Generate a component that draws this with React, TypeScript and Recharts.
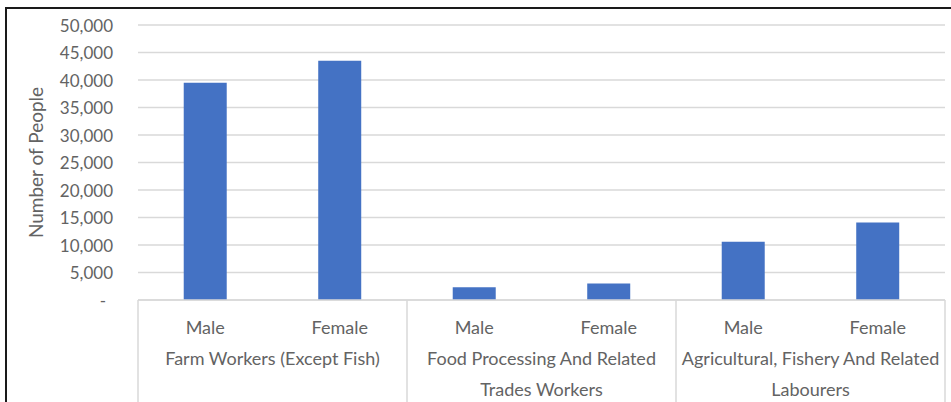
import React from "react";
import { BarChart, Bar, XAxis, YAxis, CartesianGrid } from "recharts";

const GROUPS = [
  ["Farm Workers (Except Fish)"],
  ["Food Processing And Related", "Trades Workers"],
  ["Agricultural, Fishery And Related", "Labourers"],
];
const SEXES = ["Male", "Female"];
const PEOPLE = [39500, 43500, 2300, 3000, 10600, 14100];
const Y_TICKS = [0, 5000, 10000, 15000, 20000, 25000, 30000, 35000, 40000, 45000, 50000];

const data = PEOPLE.map((people, i) => ({
  sex: SEXES[i % 2],
  group: Math.floor(i / 2),
  people,
}));

const W = 951;
const H = 402;
const LEFT = 138;
const RIGHT = 6;
const BAND = (W - LEFT - RIGHT) / data.length;
const FONT = "Lato, 'Open Sans', sans-serif";
const TEXT = "#636363";
const LINE = "#D9D9D9";

function YTick({ x, y, payload }: any) {
  const zero = payload.value === 0;
  return (
    <text
      x={x - (zero ? 7 : 0)}
      y={y}
      textAnchor="end"
      dominantBaseline="central"
      fill={TEXT}
      fontSize={17}
      fontFamily={FONT}
    >
      {zero ? "-" : payload.value.toLocaleString("en-US")}
    </text>
  );
}

function XTick({ x, y, payload }: any) {
  const i = payload.index;
  const g = Math.floor(i / 2);
  const first = i % 2 === 0;
  return (
    <g>
      <text
        x={x}
        y={y + 27}
        textAnchor="middle"
        dominantBaseline="central"
        fill={TEXT}
        fontSize={18}
        fontFamily={FONT}
      >
        {payload.value}
      </text>
      {first && (
        <>
          <line x1={x - BAND / 2} x2={x - BAND / 2} y1={y} y2={H} stroke={LINE} strokeWidth={1.5} />
          {GROUPS[g].map((ln, k) => (
            <text
              key={k}
              x={x + BAND / 2}
              y={y + 58 + k * 31}
              textAnchor="middle"
              dominantBaseline="central"
              fill={TEXT}
              fontSize={18}
              fontFamily={FONT}
            >
              {ln}
            </text>
          ))}
        </>
      )}
      {i === data.length - 1 && (
        <line x1={x + BAND / 2} x2={x + BAND / 2} y1={y} y2={H} stroke={LINE} strokeWidth={1.5} />
      )}
    </g>
  );
}

export default function App() {
  return (
    <div
      style={{
        position: "absolute",
        left: 0,
        top: 0,
        width: W,
        height: H,
        overflow: "hidden",
        background: "#fff",
      }}
    >
      <div
        style={{
          position: "absolute",
          left: 5,
          top: 7,
          width: W + 20,
          height: H + 20,
          borderLeft: "2px solid #1a1a1a",
          borderTop: "2px solid #1a1a1a",
        }}
      />
      <BarChart
        width={W}
        height={H}
        data={data}
        margin={{ top: 25, right: RIGHT, bottom: 0, left: 0 }}
        barCategoryGap="34%"
      >
        <CartesianGrid vertical={false} stroke={LINE} strokeWidth={1.5} />
        <XAxis
          dataKey="sex"
          height={102}
          axisLine={{ stroke: LINE, strokeWidth: 1.5 }}
          tickLine={false}
          tickSize={0}
          tickMargin={0}
          interval={0}
          tick={<XTick />}
        />
        <YAxis
          width={LEFT}
          domain={[0, 50000]}
          ticks={Y_TICKS}
          axisLine={false}
          tickLine={false}
          tickSize={0}
          tickMargin={25}
          tick={<YTick />}
          label={{
            value: "Number of People",
            angle: -90,
            position: "center",
            dx: -33,
            fill: TEXT,
            fontSize: 19,
            fontFamily: FONT,
          }}
        />
        <Bar dataKey="people" fill="#4472C4" isAnimationActive={false} />
      </BarChart>
    </div>
  );
}
